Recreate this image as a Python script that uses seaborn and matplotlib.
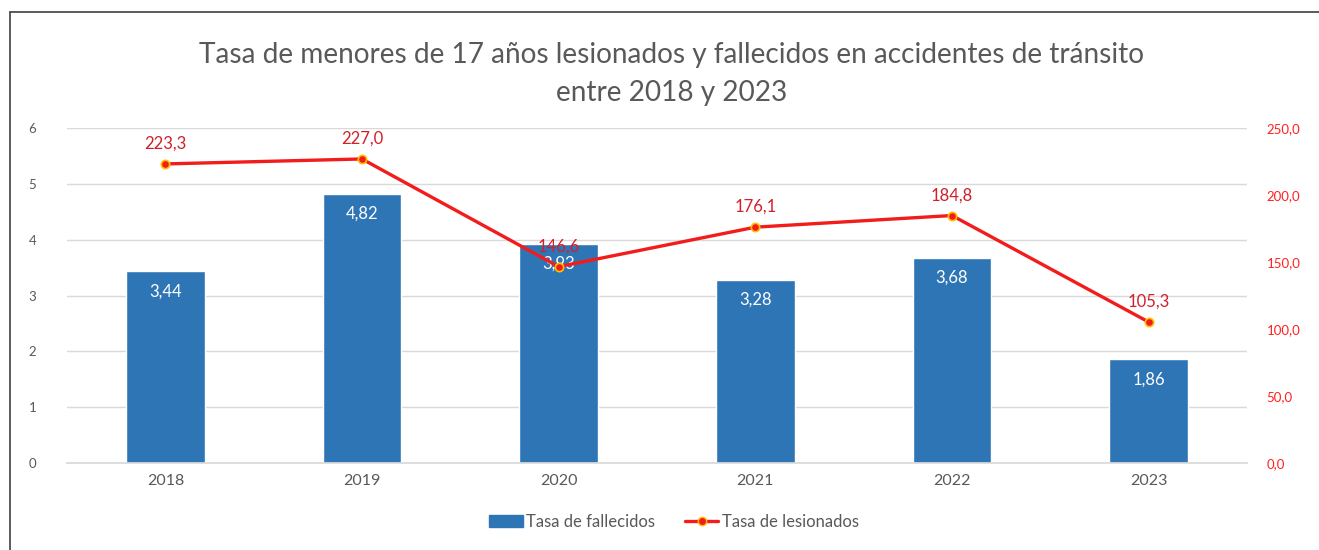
import numpy as np
import pandas as pd
import seaborn as sns
import matplotlib.pyplot as plt
from matplotlib.lines import Line2D
from matplotlib.patches import Patch

# ---- Data

years = ["2018", "2019", "2020", "2021", "2022", "2023"]
tasa_fallecidos = [3.44, 4.82, 3.93, 3.28, 3.68, 1.86]
tasa_lesionados = [223.3, 227.0, 146.6, 176.1, 184.8, 105.3]

left_ticks = [0, 1, 2, 3, 4, 5, 6]
right_ticks = [0, 50, 100, 150, 200, 250]

BLUE = "#2E75B6"
RED = "#F21C1C"
LABEL_RED = "#D0212A"
GRAY = "#595959"
GRID = "#D9D9D9"

sns.set_theme(style="white")
plt.rcParams["font.family"] = ["Lato", "DejaVu Sans"]

df = pd.DataFrame({"year": years, "fallecidos": tasa_fallecidos,
                   "lesionados": tasa_lesionados})
df["pos"] = np.arange(len(df))

fig = plt.figure(figsize=(13.19, 5.5), dpi=100)
ax = fig.add_axes([0.0508, 0.158, 0.8946, 0.609])

sns.barplot(data=df, x="year", y="fallecidos", color=BLUE, width=0.4,
            saturation=1, ax=ax, zorder=2)
ax.set_xlim(-0.5, len(years) - 0.5)
ax.set_ylim(0, 6)
ax.set_yticks(left_ticks)
ax.yaxis.grid(True, color=GRID, lw=1, zorder=0)
ax.set_axisbelow(True)
ax.set_xlabel("")
ax.set_ylabel("")
for s in ["top", "right", "left"]:
    ax.spines[s].set_visible(False)
ax.spines["bottom"].set_color(GRID)
ax.tick_params(axis="y", length=0, labelsize=9.5, labelcolor=GRAY, pad=22)
ax.tick_params(axis="x", length=0, labelsize=11.5, labelcolor=GRAY, pad=8)

for p, v in zip(ax.patches, tasa_fallecidos):
    ax.text(p.get_x() + p.get_width() / 2, v - 0.36, f"{v:.2f}".replace(".", ","),
            ha="center", va="center", color="white", fontsize=12, zorder=5)

ax2 = ax.twinx()
sns.lineplot(data=df, x="pos", y="lesionados", color=RED, lw=2.4, marker="o",
             markersize=6, markerfacecolor=RED, markeredgecolor="#FFC000",
             markeredgewidth=1.2, ax=ax2, zorder=4)
ax2.set_ylim(0, 250)
ax2.set_yticks(right_ticks)
ax2.set_yticklabels([f"{t:.1f}".replace(".", ",") for t in right_ticks])
ax2.set_xlabel("")
ax2.set_ylabel("")
for s in ax2.spines.values():
    s.set_visible(False)
ax2.tick_params(axis="y", length=0, labelsize=9.5, labelcolor="#FF2020", pad=14)

for x, v in zip(df["pos"], tasa_lesionados):
    ax2.text(x, v + 15, f"{v:.1f}".replace(".", ","), ha="center", va="center",
             color=LABEL_RED, fontsize=12, zorder=6)

fig.text(0.509, 0.90, "Tasa de menores de 17 años lesionados y fallecidos en accidentes de tránsito",
         ha="center", va="center", fontsize=20.2, color=GRAY)
fig.text(0.509, 0.83, "entre 2018 y 2023", ha="center", va="center",
         fontsize=20.2, color=GRAY)

handles = [Patch(facecolor=BLUE, edgecolor=BLUE),
           Line2D([], [], color=RED, lw=2.4, marker="o", markersize=6,
                  markerfacecolor=RED, markeredgecolor="#FFC000")]
fig.legend(handles, ["Tasa de fallecidos", "Tasa de lesionados"],
           loc="center", bbox_to_anchor=(0.511, 0.051), ncol=2, frameon=False,
           fontsize=12, labelcolor=GRAY, handlelength=2.0, handletextpad=0.2,
           columnspacing=1.8)

# frame lines of the original image
fig.add_artist(Line2D([10 / 1319, 10 / 1319], [0, 1 - 12 / 550], color="#404040", lw=1.2))
fig.add_artist(Line2D([10 / 1319, 1], [1 - 12 / 550, 1 - 12 / 550], color="#404040", lw=1.2))

fig.savefig("out.png", dpi=100)
